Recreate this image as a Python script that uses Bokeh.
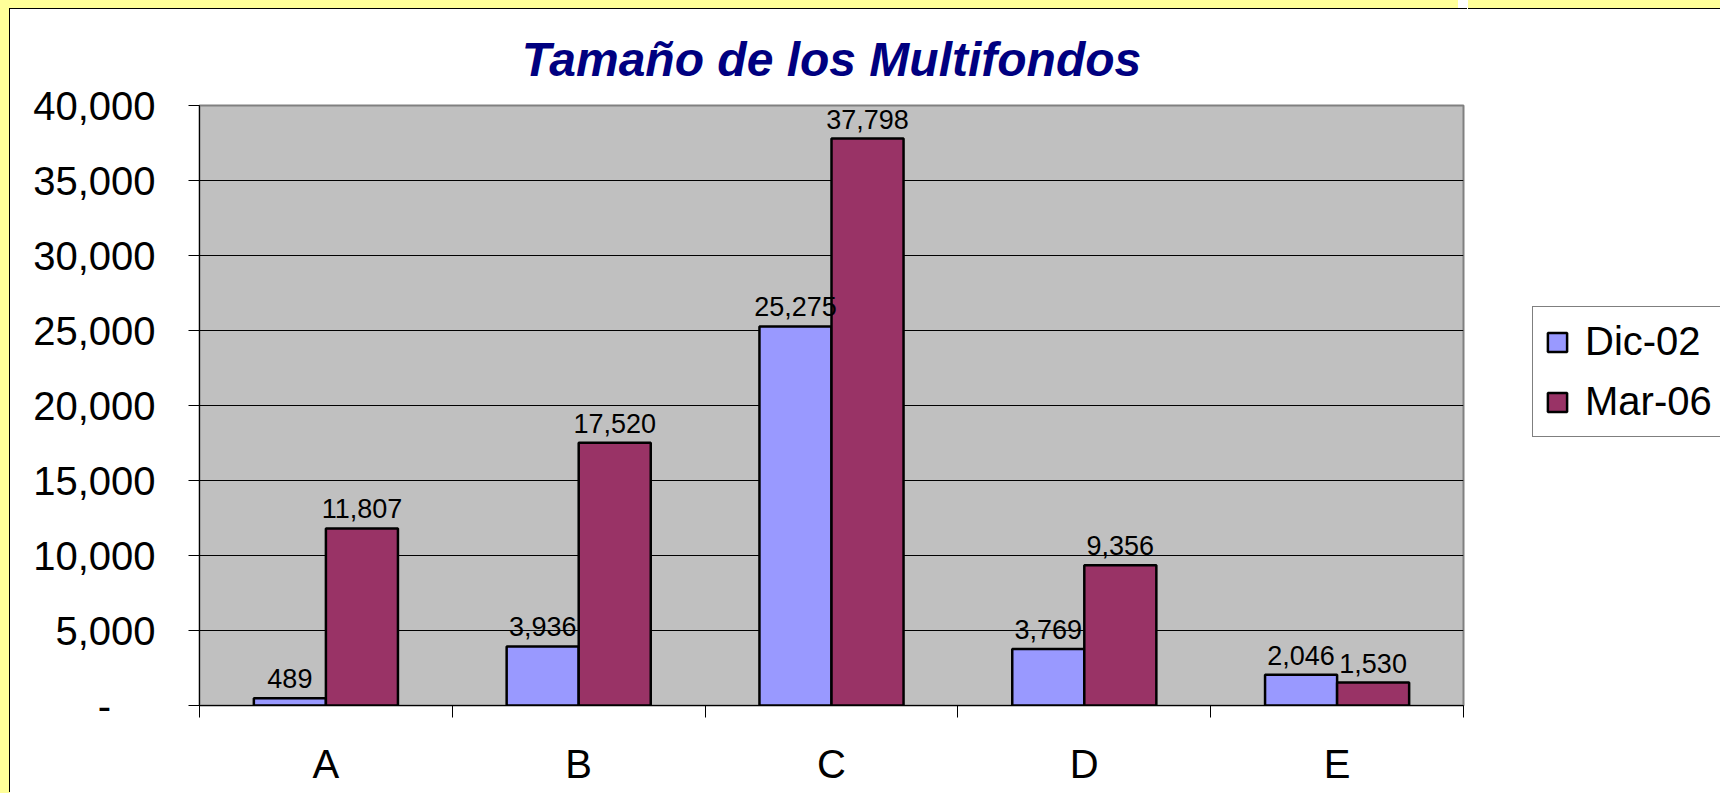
from bokeh.plotting import figure
from bokeh.layouts import row
from bokeh.models import (ColumnDataSource, FixedTicker, NumeralTickFormatter,
                          Legend, LegendItem)
from bokeh.transform import dodge
from bokeh.core.properties import value
from bokeh.embed import file_html
from bokeh.resources import INLINE

# ---- data ----
categories = ["A", "B", "C", "D", "E"]
series_names = ["Dic-02", "Mar-06"]
dic02 = [489, 3936, 25275, 3769, 2046]
mar06 = [11807, 17520, 37798, 9356, 1530]
y_ticks = [0, 5000, 10000, 15000, 20000, 25000, 30000, 35000, 40000]
title_text = "Tamaño de los Multifondos"

FONT = "Liberation Sans"
BLUE = "#9999FF"
PLUM = "#993366"
YELLOW = "#FFFF99"
H = 784

xpos = [i + 0.5 for i in range(len(categories))]
src = ColumnDataSource(dict(
    x=xpos,
    dic=dic02,
    mar=mar06,
    dic_lbl=[f"{v:,}" for v in dic02],
    mar_lbl=[f"{v:,}" for v in mar06],
))

# ---- main chart ----
p = figure(width=1458, height=H,
           x_range=(0, len(categories)), y_range=(0, 40000),
           output_backend="svg", toolbar_location=None,
           min_border_left=189, min_border_right=5,
           min_border_top=96, min_border_bottom=88)
p.margin = (9, 0, 0, 10)
p.styles = {"box-shadow": f"-1px -1px 0 0 black, -10px -9px 0 0 {YELLOW}, -10px 0 0 0 {YELLOW}"}

p.title.text = title_text
p.title.text_font = FONT
p.title.text_font_size = "48px"
p.title.text_font_style = "bold italic"
p.title.text_color = "#000080"
p.title.align = "center"
p.title.vertical_align = "top"
p.title.standoff = 36
p.title.offset = -10

p.background_fill_color = "#C0C0C0"
p.border_fill_color = "white"
p.outline_line_color = "#808080"
p.outline_line_width = 2

bar_w = 0.285
r1 = p.vbar(x=dodge("x", -bar_w / 2, range=p.x_range), top="dic", width=bar_w,
            fill_color=BLUE, line_color="black", line_width=2.5, source=src)
r2 = p.vbar(x=dodge("x", bar_w / 2, range=p.x_range), top="mar", width=bar_w,
            fill_color=PLUM, line_color="black", line_width=2.5, source=src)

for col, lbl, off in (("dic", "dic_lbl", -bar_w / 2), ("mar", "mar_lbl", bar_w / 2)):
    p.text(x=dodge("x", off, range=p.x_range), y=col, text=lbl, source=src,
           text_align="center", text_baseline="bottom", y_offset=-10,
           text_font=value(FONT), text_font_size="27px", text_color="black")

# y axis
p.yaxis.ticker = FixedTicker(ticks=y_ticks)
p.yaxis.formatter = NumeralTickFormatter(format="0,0")
p.yaxis.major_label_overrides = {0: "-\u00a0\u00a0\u00a0\u00a0"}
p.yaxis.major_label_text_font = FONT
p.yaxis.major_label_text_font_size = "40px"
p.yaxis.major_label_text_color = "black"
p.yaxis.major_label_standoff = 33
p.yaxis.major_tick_out = 11
p.yaxis.major_tick_in = 0
p.yaxis.minor_tick_out = 0
p.yaxis.minor_tick_in = 0
p.yaxis.axis_line_color = "black"
p.yaxis.major_tick_line_color = "black"

# x axis: labels at category centres, ticks at category boundaries
p.xaxis.ticker = FixedTicker(ticks=xpos,
                             minor_ticks=list(range(len(categories) + 1)))
p.xaxis.major_label_overrides = {x: c for x, c in zip(xpos, categories)}
p.xaxis.major_label_text_font = FONT
p.xaxis.major_label_text_font_size = "40px"
p.xaxis.major_label_text_color = "black"
p.xaxis.major_label_standoff = 24
p.xaxis.major_tick_out = 0
p.xaxis.major_tick_in = 0
p.xaxis.minor_tick_out = 12
p.xaxis.minor_tick_in = 0
p.xaxis.minor_tick_line_color = "black"
p.xaxis.axis_line_color = "black"

p.xgrid.grid_line_color = None
p.ygrid.grid_line_color = "#000000"
p.ygrid.grid_line_width = 1

# ---- legend panel (hidden proxy renderers of the same data) ----
pl = figure(width=252, height=H, x_range=(0, len(categories)), y_range=(0, 40000),
            output_backend="svg", toolbar_location=None,
            min_border_left=0, min_border_right=0,
            min_border_top=0, min_border_bottom=0)
pl.margin = (9, 0, 0, 0)
pl.styles = {"box-shadow": f"0 -1px 0 0 black, 0 -9px 0 0 {YELLOW}"}
pl.axis.visible = False
pl.grid.grid_line_color = None
pl.outline_line_color = None
pl.background_fill_color = "white"
pl.border_fill_color = "white"
k1 = pl.vbar(x="x", top="dic", width=bar_w, source=src,
             fill_color=BLUE, line_color="black", line_width=2.5)
k2 = pl.vbar(x="x", top="mar", width=bar_w, source=src,
             fill_color=PLUM, line_color="black", line_width=2.5)
k1.visible = False
k2.visible = False

legend = Legend(items=[LegendItem(label=series_names[0], renderers=[k1]),
                       LegendItem(label=series_names[1], renderers=[k2])],
                location=(64, 268))
legend.click_policy = "none"
legend.label_text_font = FONT
legend.label_text_font_size = "40px"
legend.label_text_color = "black"
legend.glyph_width = 24
legend.glyph_height = 24
legend.label_standoff = 16
legend.padding = 12
legend.spacing = 15
legend.margin = 0
legend.border_line_color = "black"
legend.border_line_width = 1
legend.background_fill_color = "white"
legend.background_fill_alpha = 1
pl.add_layout(legend, "center")

layout = row(p, pl, spacing=0)

html = file_html(layout, INLINE, title=title_text)
css = "<style>html, body { margin: 0 !important; padding: 0 !important; background-color: white !important; }</style>"
if "</head>" in html:
    html = html.replace("</head>", css + "</head>", 1)
else:
    html = css + html
open("out.html", "w").write(html)
